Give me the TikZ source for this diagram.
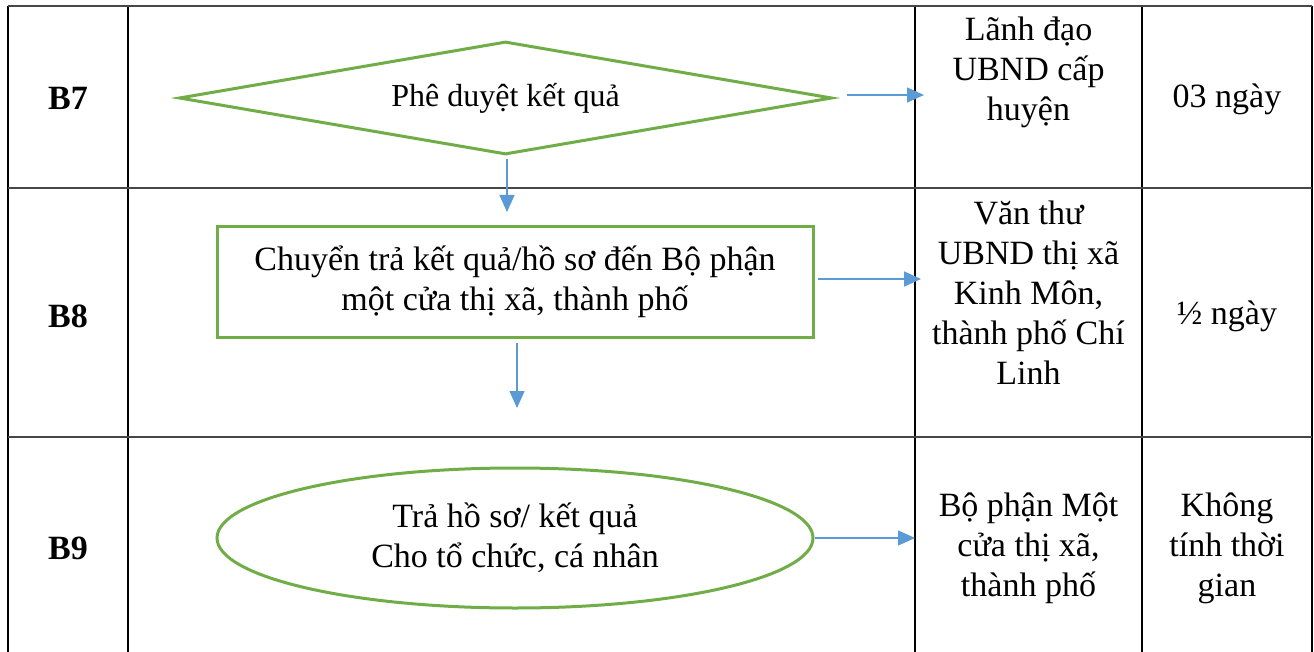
\documentclass[tikz,border=0pt]{standalone}
\usepackage{fontspec}
\setmainfont{Liberation Serif}
\usetikzlibrary{shapes.geometric,arrows.meta}
\definecolor{flowgreen}{HTML}{70AD47}
\definecolor{flowblue}{HTML}{5B9BD5}
\begin{document}
\begin{tikzpicture}[x=1pt,y=-1pt,
  txt/.style={font=\fontsize{34}{40}\selectfont, align=center, inner sep=0pt},
  lbl/.style={font=\fontsize{34}{40}\selectfont\bfseries, inner sep=0pt},
  gridv/.style={line width=1.5pt, black},
  gridh/.style={line width=2pt, black!72},
  shapebox/.style={draw=flowgreen, line width=3pt, inner sep=0pt, align=center, font=\fontsize{34}{40}\selectfont},
  flow/.style={draw=flowblue, line width=1.5pt, -{Triangle[length=17pt,width=15pt]}}
]
\useasboundingbox (0,0) rectangle (1314,652);
\fill[white] (0,0) rectangle (1314,652);
% table grid
\foreach \x in {8,128,915,1142,1312} \draw[gridv] (\x,6) -- (\x,652);
\foreach \y in {6,188,437} \draw[gridh] (8,\y) -- (1312,\y);
% step labels
\node[lbl] (b7) at (68,98) {B7};
\node[lbl] (b8) at (68,316) {B8};
\node[lbl] (b9) at (68,548) {B9};
% flow shapes
\node[shapebox, diamond, shape aspect=5.78, minimum width=653pt, minimum height=113pt, font=\fontsize{32}{38}\selectfont] (dia) at (505.5,98) {Phê duyệt kết quả};
\node[shapebox, rectangle, minimum width=596pt, minimum height=110pt] (rect) at (515,282) {Chuyển trả kết quả/hồ sơ đến Bộ phận\\một cửa thị xã, thành phố};
\node[shapebox, ellipse, minimum width=596pt, minimum height=140pt] (ell) at (515,538) {Trả hồ sơ/ kết quả\\Cho tổ chức, cá nhân};
% responsible
\node[txt] (r7) at (1028.5,72) {Lãnh đạo\\UBND cấp\\huyện};
\node[txt] (r8) at (1028.5,293) {Văn thư\\UBND thị xã\\Kinh Môn,\\thành phố Chí\\Linh};
\node[txt] (r9) at (1028.5,548) {Bộ phận Một\\cửa thị xã,\\thành phố};
% time
\node[txt] (t7) at (1227,99) {03 ngày};
\node[txt] (t8) at (1227,316) {½ ngày};
\node[txt] (t9) at (1227,548) {Không\\tính thời\\gian};
% connectors
\coordinate (a1) at (924,95);
\coordinate (a2) at (507,212);
\coordinate (a3) at (921,279);
\coordinate (a4) at (517,408);
\coordinate (a5) at (915,538);
\draw[flow] ([xshift=13pt,yshift=3pt]dia.east) -- (a1);
\draw[flow] ([xshift=1.5pt,yshift=-3pt]dia.south) -- (a2);
\draw[flow] ([xshift=3.5pt,yshift=3pt]rect.east) -- (a3);
\draw[flow] ([xshift=2pt,yshift=-4pt]rect.south) -- (a4);
\draw[flow] (ell.east) -- (a5);
\end{tikzpicture}
\end{document}
